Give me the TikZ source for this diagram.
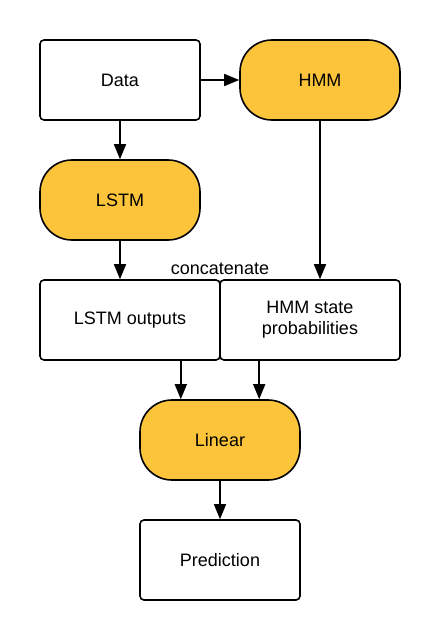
\documentclass[tikz,border=0pt]{standalone}
\usepackage{fontspec}
\setmainfont{Liberation Sans}
\usetikzlibrary{
  arrows.meta,
  positioning,
  calc
}
\definecolor{nnYellow}{HTML}{FCC43A}
\tikzset{
  nnnode/.style={
    draw, line width=1.6pt, minimum width=160pt, minimum height=80pt,
    font=\fontsize{18}{21}\selectfont, align=center, inner sep=0pt
  },
  databox/.style={nnnode, rounded corners=4pt, fill=white},
  model/.style={nnnode, rounded corners=32pt, fill=nnYellow},
  widebox/.style={databox, minimum width=180pt},
  flow/.style={-{Triangle[length=15pt, width=12pt]}, line width=1.6pt},
  tag/.style={font=\fontsize{18}{21}\selectfont, inner sep=1pt}
}
\begin{document}
\begin{tikzpicture}[x=1pt, y=-1pt]
  \useasboundingbox (0,0) rectangle (440,640);
  \node[databox] (data) at (120,80) {Data};
  \node[model] (hmm) at (320,80) {HMM};
  \node[model] (lstm) at (120,200) {LSTM};
  \node[widebox] (lstmout) at (130,320) {LSTM outputs};
  \node[widebox] (hmmprob) at (310,320) {HMM state\\probabilities};
  \node[tag, anchor=base] (concat) at (220,274) {concatenate};
  \node[model] (linear) at (220,440) {Linear};
  \node[databox] (pred) at (220,560) {Prediction};

  \draw[flow] (data) -- (hmm);
  \draw[flow] (data) -- (lstm);
  \draw[flow] (lstm.south) -- (lstm.south |- lstmout.north);
  \draw[flow] (hmm.south) -- (hmm.south |- hmmprob.north);
  \draw[flow] ([xshift=-40pt]lstmout.south east) -- ([xshift=-40pt]lstmout.south east |- linear.north);
  \draw[flow] ([xshift=40pt]hmmprob.south west) -- ([xshift=40pt]hmmprob.south west |- linear.north);
  \draw[flow] (linear) -- (pred);
\end{tikzpicture}
\end{document}
